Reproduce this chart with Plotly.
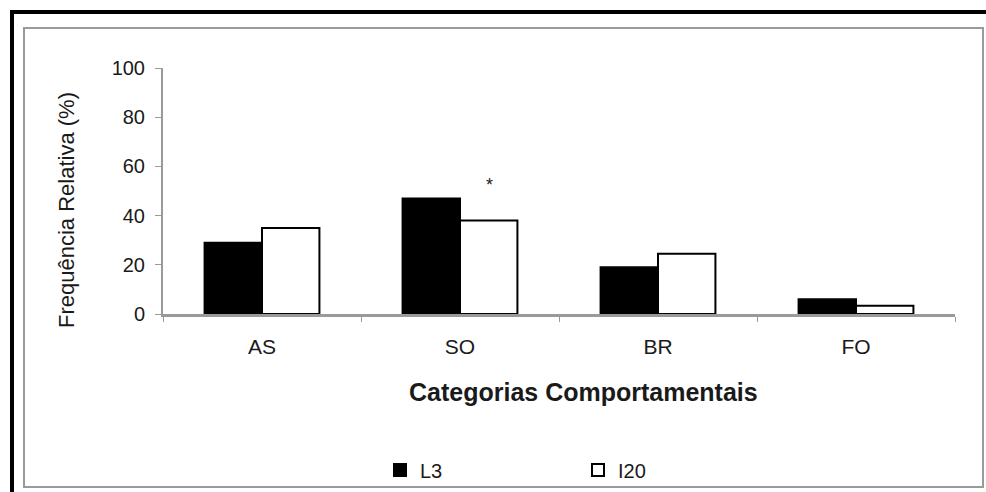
import plotly.graph_objects as go

# ---- data ----
categories = ["AS", "SO", "BR", "FO"]
l3_values = [29, 47, 19, 6]
i20_values = [35, 38, 24.5, 3.4]
significance = ["", "*", "", ""]
series_names = ["L3", "I20"]
y_ticks = [0, 20, 40, 60, 80, 100]

# ---- layout geometry (pixels) ----
W_PX, H_PX = 986, 492
ML, MR, MT, MB = 163, 31, 68, 178
PW = W_PX - ML - MR
PH = H_PX - MT - MB

def px_x(px):
    return (px - ML) / PW

def px_y(py):
    return (H_PX - MB - py) / PH

FONT = "Liberation Sans, Arial, Helvetica, sans-serif"
TXT = "#1a1a1a"
GREY = "#9a9a9a"

fig = go.Figure()
fig.add_trace(go.Bar(
    x=categories, y=l3_values, name=series_names[0],
    marker=dict(color="#000000", line=dict(color="#000000", width=2)),
))
fig.add_trace(go.Bar(
    x=categories, y=i20_values, name=series_names[1],
    marker=dict(color="#ffffff", line=dict(color="#000000", width=2)),
))

annotations = []
for cat, val, mark in zip(categories, i20_values, significance):
    if mark:
        annotations.append(dict(
            x=cat, y=val, xref="x", yref="y", text=mark, showarrow=False,
            xshift=29, yshift=36, font=dict(family=FONT, size=18, color=TXT),
        ))

annotations.append(dict(
    x=px_x(583), y=px_y(392), xref="paper", yref="paper",
    text="<b>Categorias Comportamentais</b>", showarrow=False,
    xanchor="center", yanchor="middle",
    font=dict(family=FONT, size=25, color=TXT),
))
annotations.append(dict(
    x=px_x(67), y=px_y(210), xref="paper", yref="paper",
    text="Frequência Relativa (%)", showarrow=False, textangle=-90,
    xanchor="center", yanchor="middle",
    font=dict(family=FONT, size=22, color=TXT),
))

shapes = [
    # outer black frame (top and left)
    dict(type="line", xref="paper", yref="paper",
         x0=px_x(10), x1=px_x(990), y0=px_y(12), y1=px_y(12),
         line=dict(color="#000000", width=4)),
    dict(type="line", xref="paper", yref="paper",
         x0=px_x(12), x1=px_x(12), y0=px_y(10), y1=px_y(495),
         line=dict(color="#000000", width=4)),
    # inner grey frame
    dict(type="rect", xref="paper", yref="paper",
         x0=px_x(24), x1=px_x(983), y0=px_y(28), y1=px_y(487),
         line=dict(color=GREY, width=2), fillcolor="rgba(0,0,0,0)"),
]

fig.update_layout(
    width=W_PX, height=H_PX,
    margin=dict(l=ML, r=MR, t=MT, b=MB, pad=0, autoexpand=False),
    paper_bgcolor="white", plot_bgcolor="white",
    barmode="group", bargap=0.42, bargroupgap=0,
    font=dict(family=FONT, color=TXT),
    showlegend=True,
    legend=dict(
        orientation="h", x=px_x(380), y=px_y(470), xanchor="left", yanchor="middle",
        entrywidth=153, entrywidthmode="pixels",
        font=dict(family=FONT, size=20, color=TXT),
        bgcolor="rgba(0,0,0,0)", itemclick=False,
    ),
    annotations=annotations,
    shapes=shapes,
)
fig.update_xaxes(
    type="category", showline=True, linecolor=GREY, linewidth=3,
    ticks="outside", tickson="boundaries", ticklen=5, tickcolor=GREY, tickwidth=1,
    tickfont=dict(family=FONT, size=21, color=TXT), ticklabelstandoff=12,
    showgrid=False, zeroline=False, automargin=False,
)
fig.update_yaxes(
    range=[0, 100], tickvals=y_ticks, showline=True, linecolor=GREY, linewidth=2,
    ticks="outside", ticklen=6, tickcolor=GREY, tickwidth=1,
    tickfont=dict(family=FONT, size=20, color=TXT), ticklabelstandoff=6,
    showgrid=False, zeroline=False, automargin=False,
)

fig.write_html(
    "out.html",
    config={"displayModeBar": False},
    post_script="document.body.style.margin='0';document.body.style.overflow='hidden';",
)
